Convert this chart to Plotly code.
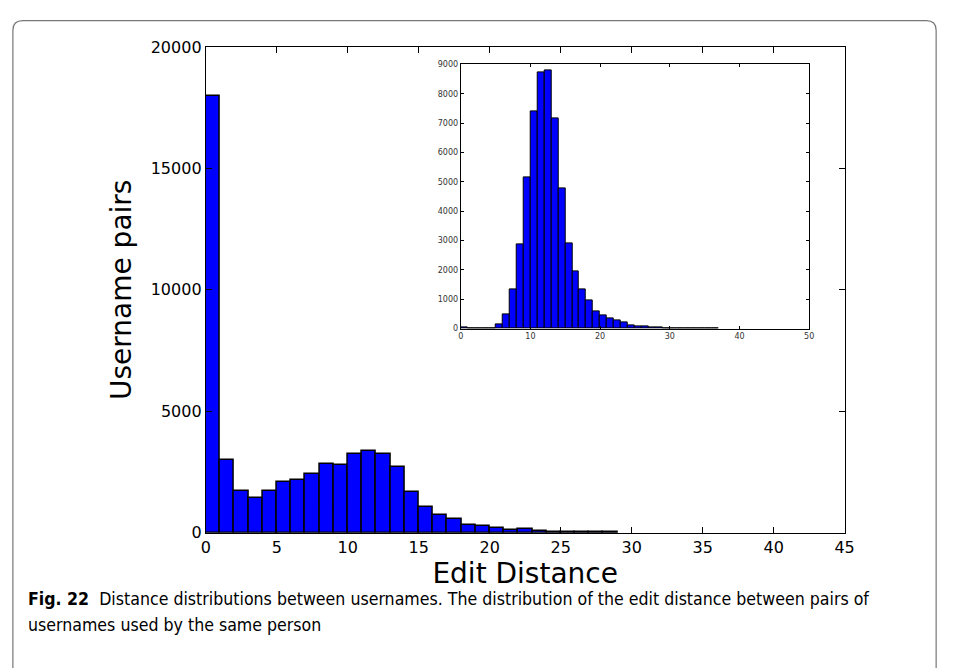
import plotly.graph_objects as go

# ---- data ----
main_bin_left = list(range(0, 29))
main_counts = [18000, 3000, 1740, 1440, 1700, 2110, 2190, 2400, 2820, 2810,
               3230, 3350, 3230, 2710, 1680, 1060, 720, 560, 315, 270,
               185, 105, 145, 60, 50, 20, 18, 15, 12]

inset_bin_left = list(range(0, 37))
inset_counts = [30, 0, 0, 0, 10, 135, 480, 1350, 2870, 5150,
                7400, 8720, 8790, 7160, 4780, 2900, 1950, 1340, 950, 600,
                450, 345, 280, 215, 110, 80, 80, 45, 30, 25,
                20, 12, 10, 5, 0, 15, 0]

main_xticks = [0, 5, 10, 15, 20, 25, 30, 35, 40, 45]
main_yticks = [0, 5000, 10000, 15000, 20000]
inset_xticks = [0, 10, 20, 30, 40, 50]
inset_yticks = [0, 1000, 2000, 3000, 4000, 5000, 6000, 7000, 8000, 9000]

x_title = "Edit Distance"
y_title = "Username pairs"
caption_line1 = ("<b>Fig. 22</b>  Distance distributions between usernames. "
                 "The distribution of the edit distance between pairs of")
caption_line2 = "usernames used by the same person"

W, H = 955, 668


def px_x(p):
    return p / W


def px_y(p):
    return 1 - p / H


fig = go.Figure()
fig.add_trace(go.Bar(
    x=[b + 0.5 for b in main_bin_left], y=main_counts, width=1,
    marker=dict(color="#0000ff", line=dict(color="black", width=1.5)),
    xaxis="x", yaxis="y", showlegend=False))
fig.add_trace(go.Bar(
    x=[b + 0.5 for b in inset_bin_left], y=inset_counts, width=1,
    marker=dict(color="#0000ff", line=dict(color="black", width=1)),
    xaxis="x2", yaxis="y2", showlegend=False))

font_main = "DejaVu Sans"
common = dict(showgrid=False, zeroline=False, showline=True, linecolor="black",
              linewidth=1, mirror="ticks", ticks="inside", tickcolor="black",
              tickformat="d")

fig.update_layout(
    width=W, height=H, margin=dict(l=0, r=0, t=0, b=0),
    paper_bgcolor="white", plot_bgcolor="white", bargap=0,
    xaxis=dict(domain=[px_x(204), px_x(853)], range=[0, 45],
               tickvals=main_xticks, ticklen=6, anchor="y",
               tickfont=dict(family=font_main, size=16, color="black"),
               title=dict(text=x_title, standoff=3,
                          font=dict(family=font_main, size=28, color="black")),
               **common),
    yaxis=dict(domain=[px_y(539), px_y(39)], range=[0, 20000],
               tickvals=main_yticks, ticklen=6, anchor="x",
               tickfont=dict(family=font_main, size=16, color="black"),
               title=dict(text=y_title, standoff=10,
                          font=dict(family=font_main, size=28, color="black")),
               **common),
    xaxis2=dict(domain=[px_x(463), px_x(817)], range=[0, 50],
                tickvals=inset_xticks, ticklen=3, anchor="y2",
                tickfont=dict(family=font_main, size=8, color="#333333"),
                **common),
    yaxis2=dict(domain=[px_y(329), px_y(57)], range=[0, 9000],
                tickvals=inset_yticks, ticklen=3, anchor="x2",
                tickfont=dict(family=font_main, size=8, color="#333333"),
                **common),
)

# outer rounded frame
x0, x1 = px_x(8), px_x(946)
y0 = px_y(12)
yb = px_y(690)
r = 10
rx, ry = r / W, r / H
path = (f"M {x0},{yb} L {x0},{y0 - ry} Q {x0},{y0} {x0 + rx},{y0} "
        f"L {x1 - rx},{y0} Q {x1},{y0} {x1},{y0 - ry} L {x1},{yb}")
fig.add_shape(type="path", path=path, xref="paper", yref="paper",
              line=dict(color="#777777", width=1.2))

cap_font = dict(family="Liberation Sans Narrow, DejaVu Sans Condensed, sans-serif",
                size=17.6, color="black")
fig.add_annotation(text=caption_line1, x=px_x(21), y=px_y(607), xref="paper",
                   yref="paper", xanchor="left", yanchor="middle",
                   showarrow=False, font=cap_font)
fig.add_annotation(text=caption_line2, x=px_x(21), y=px_y(634), xref="paper",
                   yref="paper", xanchor="left", yanchor="middle",
                   showarrow=False, font=cap_font)

fig.write_html("out.html")
